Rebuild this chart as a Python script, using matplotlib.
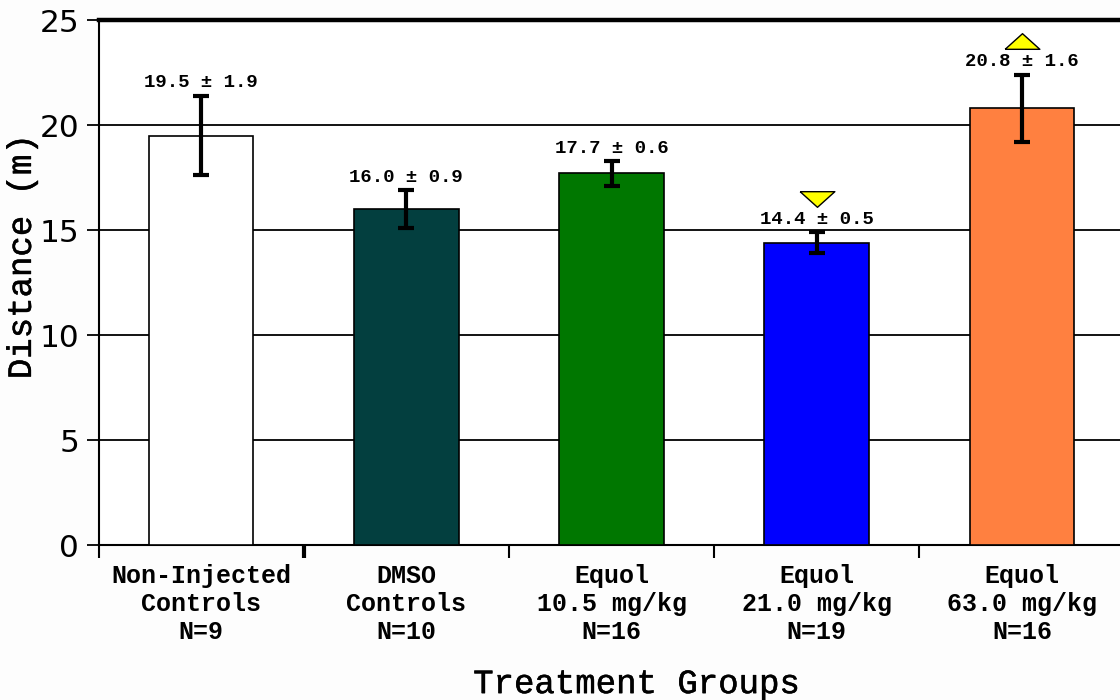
import matplotlib
matplotlib.use("Agg")
import matplotlib.pyplot as plt
import matplotlib.patheffects as pe
import numpy as np

# Group labels, means, SEMs and group sizes
groups = ["Non-Injected\nControls", "DMSO\nControls", "Equol\n10.5 mg/kg",
          "Equol\n21.0 mg/kg", "Equol\n63.0 mg/kg"]
n_sizes = [9, 10, 16, 19, 16]
means = [19.5, 16.0, 17.7, 14.4, 20.8]
sems = [1.9, 0.9, 0.6, 0.5, 1.6]
bar_colors = ["#ffffff", "#033f3f", "#007700", "#0000ff", "#ff8040"]
# Significance markers: +1 higher than controls, -1 lower, 0 none
signif = [0, 0, 0, -1, 1]

mono = "Liberation Mono"
heavier = [pe.withStroke(linewidth=0.35, foreground="black")]

fig = plt.figure(figsize=(11.2, 7.0), dpi=100)
fig.patch.set_facecolor("#fdfdfd")
ax = fig.add_axes([0.088, 0.2214, 0.916, 0.75])
ax.set_facecolor("#ffffff")

x = np.arange(len(means))
ax.bar(x, means, width=0.51, color=bar_colors, edgecolor="black",
       linewidth=1.2, zorder=3)
ax.errorbar(x, means, yerr=sems, fmt="none", ecolor="black", elinewidth=3,
            capsize=5.5, capthick=3, zorder=4)

for xi, m, s in zip(x, means, sems):
    ax.annotate(f"{m:.1f} \u00b1 {s:.1f}", xy=(xi, m + s), xytext=(0, 3),
                textcoords="offset points", ha="center", va="bottom",
                fontsize=13.7, fontweight="bold", family=mono, zorder=5)

tri_up = [(-1, -0.45), (1, -0.45), (0, 0.45), (-1, -0.45)]
tri_down = [(-1, 0.45), (1, 0.45), (0, -0.45), (-1, 0.45)]
for xi, m, s, sg in zip(x, means, sems, signif):
    if sg == 0:
        continue
    ax.plot(xi, m + s + 1.6, marker=tri_up if sg > 0 else tri_down,
            markersize=25, markerfacecolor="#ffff00", markeredgecolor="black",
            markeredgewidth=1.0, linestyle="none", zorder=5, clip_on=False)

ax.set_xlim(-0.5, 4.5)
ax.set_ylim(0, 25)
ax.set_yticks([0, 5, 10, 15, 20, 25])
ax.yaxis.grid(True, color="black", linewidth=1.3, zorder=0)
ax.set_axisbelow(True)

# Major ticks between groups, labels centred on groups via minor ticks
ax.set_xticks(np.arange(-0.5, 5.0, 1.0))
ax.set_xticklabels([])
ax.set_xticks(x, minor=True)
ax.set_xticklabels([f"{g}\nN={n}" for g, n in zip(groups, n_sizes)],
                   minor=True, family=mono, fontweight="bold", fontsize=18,
                   linespacing=1.22)
ax.tick_params(axis="x", which="major", length=9, width=1.5, color="black",
               direction="out")
ax.tick_params(axis="x", which="minor", length=0, pad=13.5)
ax.xaxis.get_major_ticks()[1].tick1line.set_markeredgewidth(3)
ax.tick_params(axis="y", length=9, width=1.3, labelsize=22.5, pad=5)

for lbl in ax.get_yticklabels():
    lbl.set_family("DejaVu Sans")

ax.spines["top"].set_linewidth(3.2)
ax.spines["left"].set_linewidth(1.5)
ax.spines["bottom"].set_linewidth(1.5)
ax.spines["right"].set_visible(False)

fig.text(0.020, 0.633, "Distance (m)", rotation=90, ha="center", va="center",
         family=mono, fontsize=24.5, path_effects=heavier)
fig.text(0.568, 0.022, "Treatment Groups", ha="center", va="center",
         family=mono, fontsize=24.5, path_effects=heavier)

fig.savefig("out.png", dpi=100, facecolor=fig.get_facecolor())
